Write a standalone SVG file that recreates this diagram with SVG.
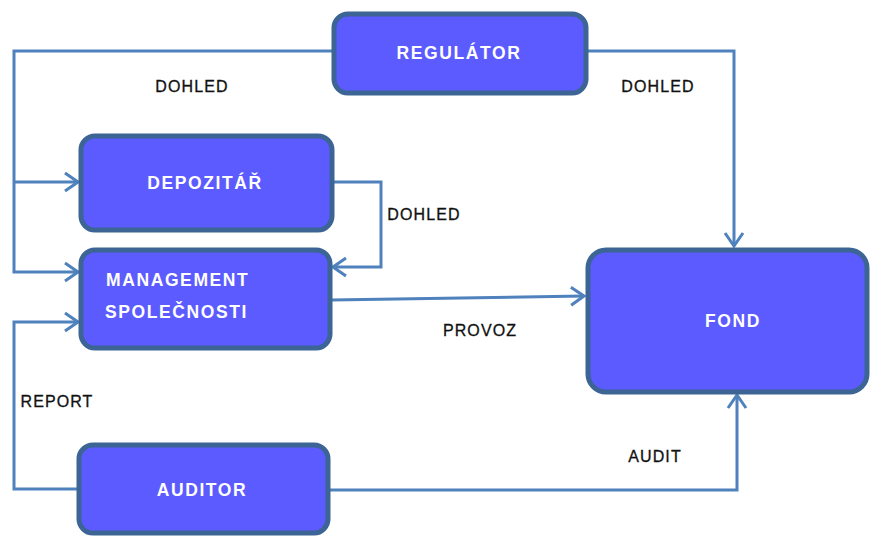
<svg xmlns="http://www.w3.org/2000/svg" width="871" height="536" viewBox="0 0 871 536">
<style>
.node{fill:#5b5bff;stroke:#3c6494;stroke-width:5}
.nt{fill:#ffffff;font-family:"Liberation Sans",Arial,sans-serif;font-weight:bold;font-size:17.5px;letter-spacing:1.6px}
.lbl{fill:#111111;font-family:"Liberation Sans",Arial,sans-serif;font-size:16px;letter-spacing:1.1px;stroke:#111111;stroke-width:0.3}
.c{fill:none;stroke:#4f81bd;stroke-width:3}
</style>
<defs>
<marker id="arr" markerUnits="userSpaceOnUse" markerWidth="16" markerHeight="22" viewBox="0 0 16 22" refX="14" refY="11" orient="auto">
<path d="M1,2 L14,11 L1,20" fill="none" stroke="#4f81bd" stroke-width="3"/>
</marker>
</defs>
<g id="connectors">
<path class="c" d="M333,51 H14 V272 H78" marker-end="url(#arr)"/>
<path class="c" d="M14,182 H78" marker-end="url(#arr)"/>
<path class="c" d="M333,182 H381 V267 H333" marker-end="url(#arr)"/>
<path class="c" d="M331,300 L584,296" marker-end="url(#arr)"/>
<path class="c" d="M587,51 H734 V246" marker-end="url(#arr)"/>
<path class="c" d="M329,490 H737 V395" marker-end="url(#arr)"/>
<path class="c" d="M78,489 H14 V322 H78" marker-end="url(#arr)"/>
<text class="lbl" x="192" y="92" text-anchor="middle">DOHLED</text>
<text class="lbl" x="658" y="92" text-anchor="middle">DOHLED</text>
<text class="lbl" x="424" y="220" text-anchor="middle">DOHLED</text>
<text class="lbl" x="480" y="336" text-anchor="middle">PROVOZ</text>
<text class="lbl" x="57" y="407" text-anchor="middle">REPORT</text>
<text class="lbl" x="655" y="462" text-anchor="middle">AUDIT</text>
</g>
<g id="regulator">
<rect class="node" x="334" y="14" width="252" height="79" rx="14"/>
<text class="nt" x="459" y="59" text-anchor="middle">REGULÁTOR</text>
</g>
<g id="depozitar">
<rect class="node" x="81" y="136" width="251" height="94" rx="14"/>
<text class="nt" x="205" y="189" text-anchor="middle">DEPOZITÁŘ</text>
</g>
<g id="management">
<rect class="node" x="81" y="250" width="249" height="98" rx="14"/>
<text class="nt" x="106" y="286">MANAGEMENT</text>
<text class="nt" x="105" y="318">SPOLEČNOSTI</text>
</g>
<g id="auditor">
<rect class="node" x="79" y="445" width="249" height="88" rx="14"/>
<text class="nt" x="202" y="496" text-anchor="middle">AUDITOR</text>
</g>
<g id="fond">
<rect class="node" x="588" y="250" width="279" height="142" rx="18"/>
<text class="nt" x="733" y="327" text-anchor="middle">FOND</text>
</g>
</svg>
